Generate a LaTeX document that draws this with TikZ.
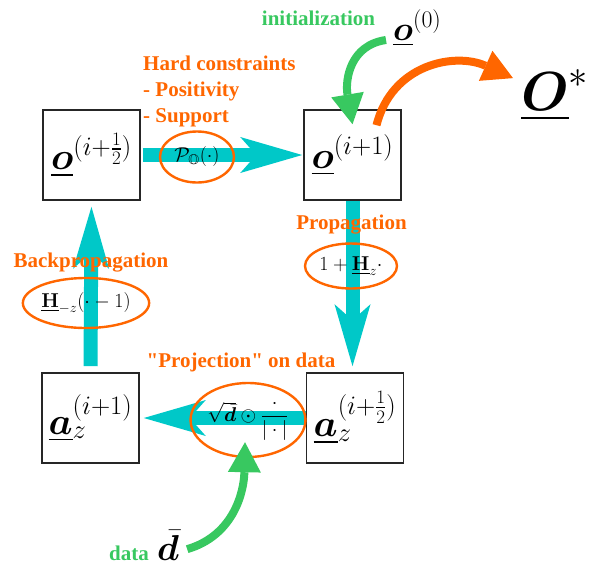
\RequirePackage{fix-cm}
\documentclass[tikz,border=0pt]{standalone}
\usepackage{amsmath, amssymb, bm}
\usepackage[no-math]{fontspec}
\newfontfamily\labelfont{Liberation Serif}
\usetikzlibrary{arrows.meta, shapes.geometric}
\definecolor{flowcyan}{RGB}{0,200,200}
\definecolor{hardorange}{RGB}{255,102,0}
\definecolor{initgreen}{RGB}{56,200,96}
\tikzset{
  statebox/.style={draw=black!85, line width=1.6pt, minimum width=97pt, minimum height=90pt, inner sep=0pt, font=\fontsize{38}{40}\selectfont},
  opring/.style={ellipse, draw=hardorange, line width=2.4pt, inner sep=0pt, font=\fontsize{20}{22}\selectfont},
  flow/.style={draw=flowcyan, line width=14pt, -{Stealth[length=62pt, width=36pt, inset=16pt, line width=0pt]}},
  curvearrow/.style={line width=8pt, -{Triangle[length=30pt, width=33pt, line width=0pt]}},
  steplabel/.style={text=hardorange, font=\labelfont\bfseries\fontsize{21}{26}\selectfont, inner sep=0pt},
  greenlabel/.style={text=initgreen, font=\labelfont\bfseries\fontsize{21}{26}\selectfont, inner sep=0pt},
}

\begin{document}
\begin{tikzpicture}[x=1pt, y=-1pt]
  \useasboundingbox (0,0) rectangle (591,563);
  % iterates
  \node[statebox] (ohalf) at (91.5,155) {$\underline{\bm{o}}^{(i+\frac{1}{2})}$};
  \node[statebox] (onext) at (352.5,155) {$\underline{\bm{o}}^{(i+1)}$};
  \node[statebox] (anext) at (90.5,418) {$\underline{\bm{a}}_z^{(i+1)}$};
  \node[statebox] (ahalf) at (355,418) {$\underline{\bm{a}}_z^{(i+\frac{1}{2})}$};
  % loop
  \draw[flow, shorten <=2pt, shorten >=1pt] (ohalf.east) -- (onext.west);
  \draw[flow, shorten >=6pt] (onext.south) -- (onext.south |- ahalf.north);
  \draw[flow, shorten >=4pt] (ahalf.west) -- (anext.east);
  \draw[flow, shorten <=6pt, shorten >=6pt] (anext.north) -- (ohalf.south);
  % operators
  \node[opring, minimum width=74pt, minimum height=51pt] (projop) at (197,157) {$\mathcal{P}_{\mathbb{O}}(\cdot)$};
  \node[opring, minimum width=92pt, minimum height=45pt] (propop) at (351,266) {$1+\underline{\mathbf{H}}_z\cdot$};
  \node[opring, minimum width=116pt, minimum height=50pt] (backop) at (86,303) {$\underline{\mathbf{H}}_{-z}(\cdot-1)$};
  \node[opring, minimum width=98pt, minimum height=74pt] (datacons) at (248,420) {$\sqrt{\bar{\bm{d}}}\odot\dfrac{\cdot}{|\cdot|}$};
  % labels
  \node[steplabel, anchor=north west, align=left] (hardlabel) at (143,56) {Hard constraints\\- Positivity\\- Support};
  \node[steplabel, anchor=base] (proplabel) at (351.5,229) {Propagation};
  \node[steplabel, anchor=base] (backlabel) at (91,267) {Backpropagation};
  \node[steplabel, anchor=base] (datalabel) at (241,367) {"Projection" on data};
  \node[greenlabel, anchor=base] (initword) at (318.5,25) {initialization};
  \node[greenlabel, anchor=base] (dataword) at (129,560) {data};
  % start, result and data
  \node[anchor=base west, inner sep=0pt, font=\fontsize{34}{36}\selectfont] (ozero) at (393,40) {$\underline{\bm{o}}^{(0)}$};
  \node[anchor=base west, inner sep=0pt, font=\fontsize{55}{58}\selectfont] (ostar) at (521,110) {$\underline{\bm{O}}^{*}$};
  \node[anchor=base, inner sep=0pt, font=\fontsize{36}{38}\selectfont] (dbar) at (168,560) {$\bar{\bm{d}}$};
  \draw[curvearrow, initgreen] ([xshift=-7pt]ozero.base west) .. controls (350,45) and (345,80) .. ([yshift=-15pt]onext.north);
  \draw[curvearrow, hardorange] ([xshift=24pt,yshift=-16pt]onext.north) .. controls (392,64) and (455,52) .. ([xshift=-8pt,yshift=17pt]ostar.west);
  \draw[curvearrow, initgreen] ([xshift=8pt,yshift=-4pt]dbar.east) .. controls (235,535) and (244,490) .. ([xshift=-3pt,yshift=16pt]datacons.south);
\end{tikzpicture}
\end{document}
